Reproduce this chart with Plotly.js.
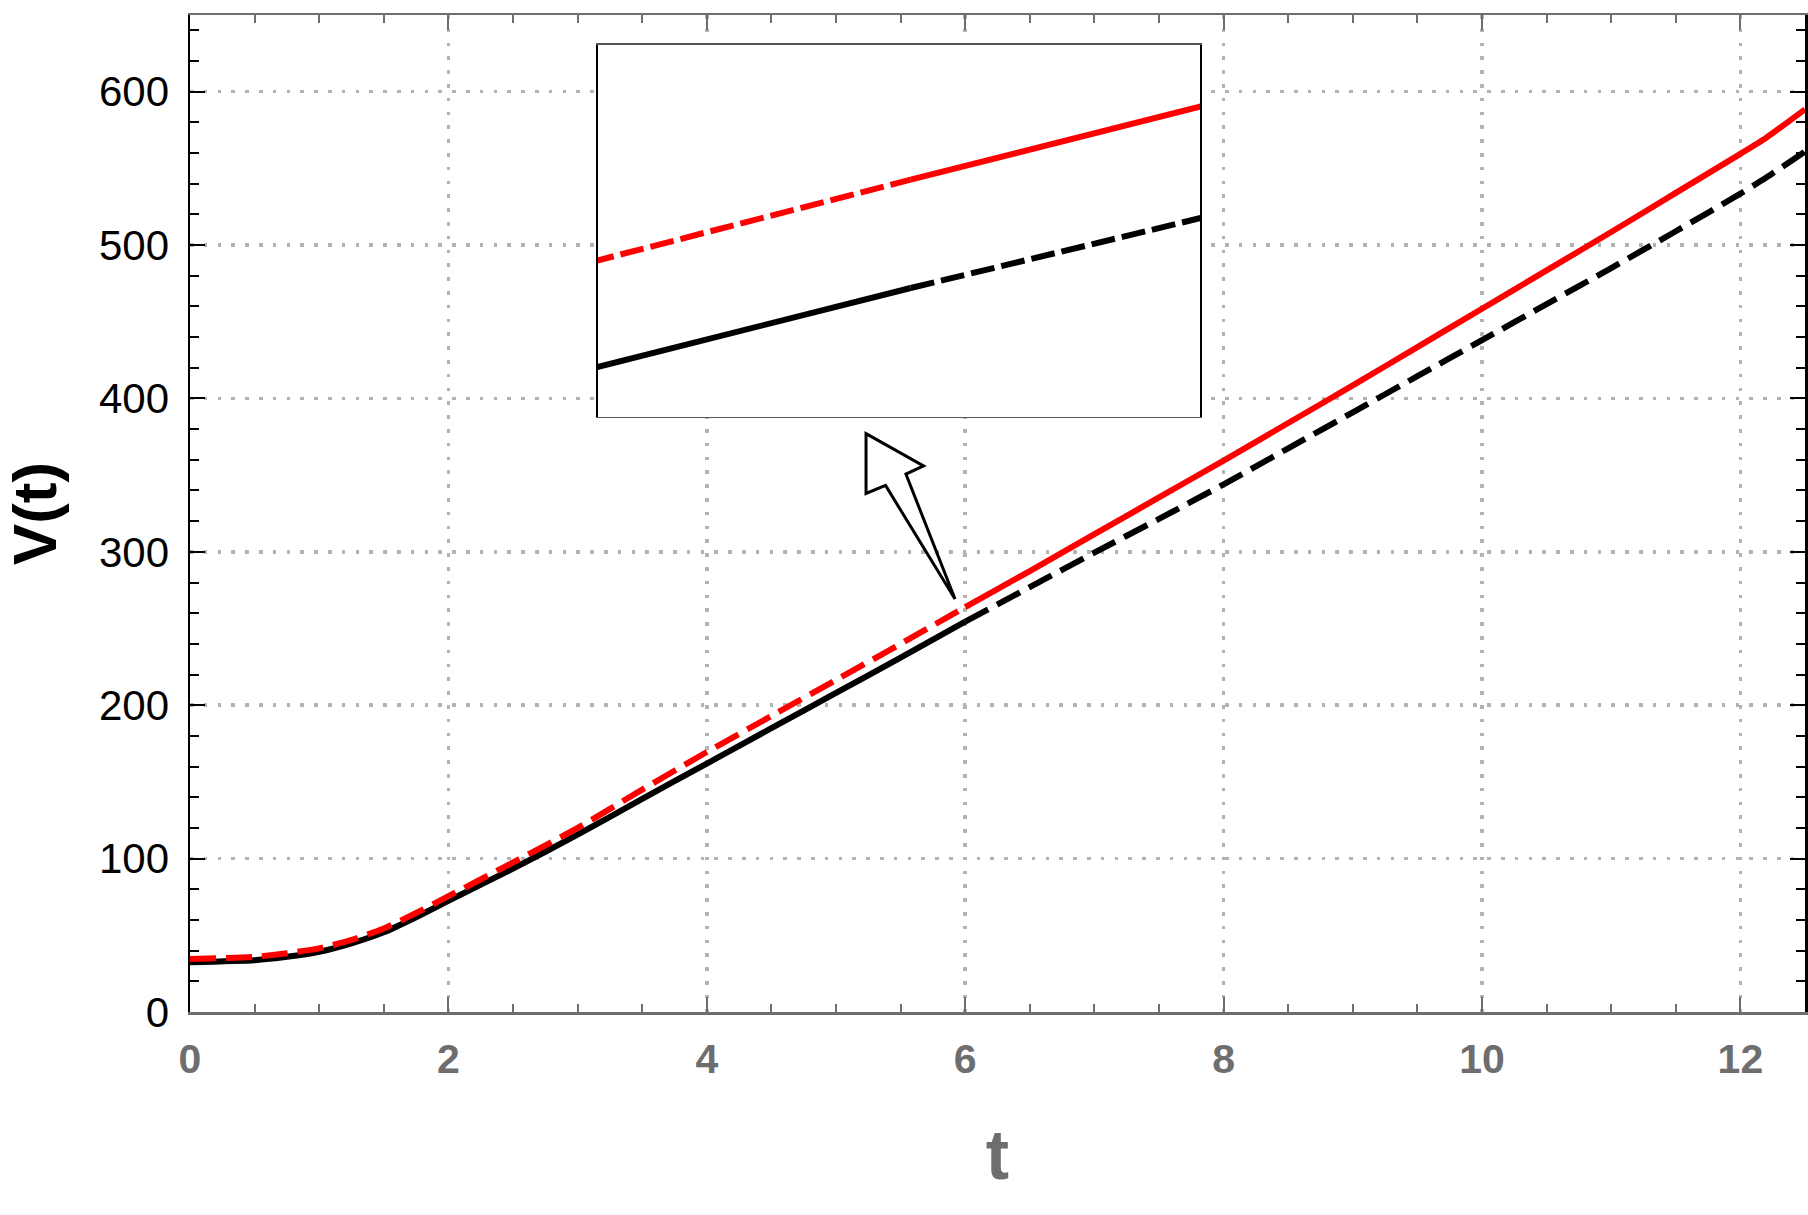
<!DOCTYPE html>
<html>
<head>
<meta charset="utf-8">
<script src="https://cdn.plot.ly/plotly-3.0.1.min.js"></script>
<style>
  html, body { margin: 0; padding: 0; background: #fff; }
  #chart { width: 1808px; height: 1215px; }
</style>
</head>
<body>
<div id="chart"></div>
<script>
// time samples and the two V(t) curves
var tValues = [0, 0.5, 0.75, 1, 1.25, 1.5, 1.75, 2, 2.5, 3, 3.5, 4, 4.5, 5, 5.5, 6,
               6.5, 7, 7.5, 8, 8.5, 9, 9.5, 10, 10.5, 11, 11.5, 12, 12.2, 12.5];
var blackV = [32.5, 33.8, 36, 39.3, 44.8, 52, 61.8, 72.5, 93.5, 115.6, 139, 162, 185, 208, 231, 254.5,
              277, 299.5, 321.5, 344, 367.5, 391, 414.5, 438, 461.5, 485, 509, 533.5, 544, 561];
var redV = [34.5, 36, 38.3, 41.5, 47, 54.5, 64.5, 75.5, 97.5, 120, 145, 169.5, 193, 216.5, 240, 264,
            287.5, 311.5, 335.5, 359.5, 384, 408.5, 433.5, 458.5, 483.5, 508.5, 534, 559.5, 570, 588.5];
var switchT = 6;            // line style changes here
var xTicks = [0, 2, 4, 6, 8, 10, 12];
var yTicks = [0, 100, 200, 300, 400, 500, 600];
var insetXRange = [5.853, 6.136];
var insetYRange = [243.2, 275.8];

var k = tValues.indexOf(switchT);
var tA = tValues.slice(0, k + 1), tB = tValues.slice(k);

function piece(x, y, color, dash, xa, ya) {
  return {
    x: x, y: y, xaxis: xa, yaxis: ya,
    mode: 'lines',
    line: {color: color, width: 6, dash: dash, shape: 'spline', smoothing: 0.6},
    hoverinfo: 'skip', showlegend: false
  };
}

function curves(xa, ya, dashPat) {
  return [
    piece(tA, blackV.slice(0, k + 1), '#000000', 'solid', xa, ya),
    piece(tB, blackV.slice(k), '#000000', dashPat, xa, ya),
    piece(tA, redV.slice(0, k + 1), '#ff0000', dashPat, xa, ya),
    piece(tB, redV.slice(k), '#ff0000', 'solid', xa, ya)
  ];
}

var traces = curves('x', 'y', '26px,10px').concat(curves('x2', 'y2', '24px,7px'));

var gray = '#6e6e6e';
var font = 'Liberation Sans, Arial, Helvetica, sans-serif';

var layout = {
  width: 1808, height: 1215,
  margin: {l: 190, r: 3, t: 15, b: 203},
  paper_bgcolor: 'white', plot_bgcolor: 'white',
  showlegend: false,
  xaxis: {
    range: [0, 12.5], tickvals: xTicks, ticktext: xTicks.map(String),
    ticks: 'inside', ticklen: 15, tickwidth: 2, tickcolor: gray,
    showline: true, linecolor: gray, linewidth: 2.5, mirror: 'ticks',
    minor: {dtick: 0.5, tick0: 0, ticks: 'inside', ticklen: 8, tickwidth: 2, tickcolor: gray, showgrid: false},
    showgrid: true, gridcolor: '#b3b3b3', gridwidth: 3.5, griddash: '3.5px,10.3px',
    zeroline: false,
    tickfont: {family: font, size: 41, color: gray, weight: 'bold'},
    ticklabelstandoff: 9,
    title: {text: 't', font: {family: font, size: 70, color: gray, weight: 'bold'}, standoff: 50}
  },
  yaxis: {
    range: [0, 650], tickvals: yTicks, ticktext: yTicks.map(String),
    ticks: 'inside', ticklen: 15, tickwidth: 2, tickcolor: '#000',
    showline: true, linecolor: '#000', linewidth: 2.5, mirror: 'ticks',
    minor: {dtick: 20, tick0: 0, ticks: 'inside', ticklen: 9, tickwidth: 2, tickcolor: '#000', showgrid: false},
    showgrid: true, gridcolor: '#b3b3b3', gridwidth: 3.5, griddash: '3.5px,10.3px',
    zeroline: false,
    tickfont: {family: font, size: 42, color: '#000'},
    ticklabelstandoff: 10,
    title: {text: 'V(t)', font: {family: font, size: 62, color: '#000', weight: 'bold'}, standoff: 24}
  },
  xaxis2: {
    domain: [0.2526, 0.6254], anchor: 'y2', range: insetXRange,
    showticklabels: false, ticks: '', showgrid: false, zeroline: false,
    showline: true, linecolor: '#555', linewidth: 1.5, mirror: true
  },
  yaxis2: {
    domain: [0.5968, 0.970], anchor: 'x2', range: insetYRange,
    showticklabels: false, ticks: '', showgrid: false, zeroline: false,
    showline: true, linecolor: '#000', linewidth: 1.5, mirror: true
  },
  shapes: [{
    // hollow arrow pointing from the curve up to the zoomed inset
    type: 'path', xref: 'paper', yref: 'paper', layer: 'above',
    path: 'M0.4186,0.5801 L0.4542,0.5477 L0.4433,0.5396 L0.4737,0.4142 ' +
          'L0.4307,0.5281 L0.4186,0.5201 Z',
    line: {color: '#000', width: 3}
  }]
};

Plotly.newPlot('chart', traces, layout, {displayModeBar: false, staticPlot: true});
</script>
</body>
</html>
